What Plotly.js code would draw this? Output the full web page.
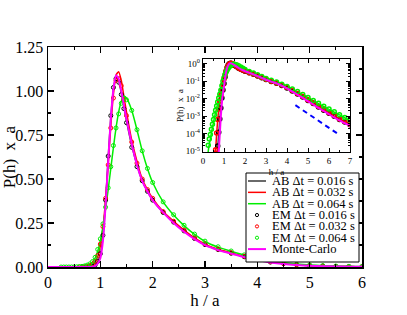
<!DOCTYPE html>
<html><head><meta charset="utf-8">
<script src="https://cdn.plot.ly/plotly-3.0.1.min.js"></script>
<style>html,body{margin:0;padding:0;background:#fff}#chart{width:407px;height:315px}</style>
</head><body><div id="chart"></div>
<script>
// h / a grid
const H = [0, 0.1, 0.2, 0.25, 0.3, 0.35, 0.4, 0.45, 0.5, 0.55, 0.6, 0.65, 0.7, 0.75, 0.8, 0.85, 0.9, 0.95, 1.0, 1.05, 1.1, 1.15, 1.2, 1.25, 1.3, 1.35, 1.4, 1.45, 1.5, 1.6, 1.7, 1.8, 1.9, 2.0, 2.2, 2.4, 2.6, 2.8, 3.0, 3.25, 3.5, 3.75, 4.0, 4.25, 4.5, 4.75, 5.0, 5.25, 5.5, 5.75, 6.0, 6.25, 6.5, 6.75, 7.0];

const AB016 = [1e-9,1e-9,1e-9,1e-9,1e-9,1e-9,1e-9,1e-9,1e-9,1e-9, 1e-8,1e-6,1.5e-5,1e-4,6e-4,3e-3,0.01,0.03,0.07,0.17, 0.37,0.62,0.85,1.01,1.08,1.06,0.99,0.91,0.83,0.69, 0.58,0.49,0.43,0.38,0.31,0.255,0.205,0.161,0.126,0.098, 0.078,0.058,0.041,0.028,0.019,0.0125,0.0078,0.0052,0.0033,0.0022, 0.0015,0.00095,0.00064,0.00045,0.00031];
const AB032 = [1e-9,1e-9,1e-9,1e-9,1e-9,1e-9,1e-9,1e-9,1e-8,1e-6, 1e-5,1e-4,6e-4,2.5e-3,7e-3,0.015,0.03,0.06,0.12,0.22, 0.38,0.58,0.8,0.98,1.09,1.11,1.06,0.97,0.88,0.72, 0.6,0.5,0.44,0.39,0.315,0.26,0.21,0.165,0.13,0.101, 0.08,0.06,0.043,0.029,0.02,0.013,0.0082,0.0055,0.0035,0.0023, 0.0016,0.001,0.00068,0.00048,0.00034];
const AB064 = [1e-9,1e-8,2e-6,1e-5,2.5e-5,5e-5,1.1e-4,2.3e-4,4.5e-4,9e-4, 1.7e-3,3e-3,5.5e-3,9e-3,0.016,0.028,0.05,0.09,0.15,0.23, 0.33,0.44,0.56,0.68,0.79,0.88,0.94,0.97,0.96,0.89, 0.78,0.66,0.56,0.48,0.37,0.295,0.235,0.185,0.145,0.113, 0.09,0.068,0.05,0.035,0.025,0.017,0.0115,0.0078,0.0053,0.0036, 0.0025,0.0017,0.0012,0.00082,0.00057];
const EM016 = [null,null,null,null,null,null,null,null,null,null, null,3e-6,2e-5,1.2e-4,7e-4,3e-3,0.011,0.032,0.075,0.18, 0.38,0.63,0.86,1.02,1.07,1.05,0.98,0.9,0.82,0.68, 0.57,0.49,0.43,0.38,0.31,0.255,0.205,0.162,0.127,0.099, 0.078,0.058,0.041,0.028,0.019,0.0125,0.008,0.0053,0.0034,0.0022, 0.0015,0.001,0.00066,0.00046,0.00032];
const EM032 = [null,null,null,null,null,null,null,null,null,null, 1.2e-5,1.1e-4,6.5e-4,2.6e-3,7.5e-3,0.016,0.032,0.065,0.13,0.23, 0.39,0.58,0.79,0.96,1.06,1.07,1.03,0.95,0.86,0.71, 0.59,0.5,0.44,0.39,0.315,0.26,0.21,0.166,0.131,0.102, 0.081,0.061,0.044,0.03,0.02,0.0135,0.0085,0.0057,0.0036,0.0024, 0.0016,0.0011,0.0007,0.0005,0.00035];
const EM064 = [null,null,null,2.2e-5,5e-5,9e-5,1.8e-4,3.5e-4,6.5e-4,1.2e-3, 2.2e-3,3.8e-3,6.5e-3,0.011,0.018,0.031,0.055,0.1,0.16,0.245, 0.34,0.45,0.57,0.69,0.79,0.87,0.93,0.96,0.95,0.89, 0.78,0.66,0.56,0.48,0.37,0.297,0.237,0.187,0.147,0.115, 0.091,0.069,0.051,0.036,0.026,0.0175,0.012,0.008,0.0055,0.0037, 0.0026,0.0018,0.0012,0.00085,0.0006];
const MC = [1e-9,1e-9,1e-9,1e-9,1e-9,1e-9,1e-9,1e-9,1e-9,1e-9, 1e-9,1e-8,1e-6,1e-5,1e-4,1e-3,6e-3,0.02,0.05,0.15, 0.35,0.6,0.84,1.01,1.09,1.07,1.0,0.92,0.84,0.70, 0.58,0.49,0.43,0.38,0.31,0.25,0.2,0.158,0.124,0.096, 0.076,0.056,0.039,0.026,0.017,0.0112,0.0072,0.0047,0.003,0.002, 0.0013,0.00085,0.00057,0.0004,0.00028];

// guide line (inset)
const refX = [4.4, 6.5];
const refY = [4.3e-3, 8.5e-5];

const names = ['AB \u0394t = 0.016 s','AB \u0394t = 0.032 s','AB \u0394t = 0.064 s','EM \u0394t = 0.016 s','EM \u0394t = 0.032 s','EM \u0394t = 0.064 s','Monte-Carlo'];
const insetYTickVals = [1, 0.1, 0.01, 0.001, 1e-4, 1e-5];
const insetYTickText = ['10<sup>0</sup>','10<sup>-1</sup>','10<sup>-2</sup>','10<sup>-3</sup>','10<sup>-4</sup>','10<sup>-5</sup>'];

const cBlack = '#383838', cRed = '#ff0000', cGreen = '#00ee00', cMag = '#ff00ff', cBlue = '#0000ff';
const FONT = 'Liberation Serif, Times New Roman, serif';

const series = [
  {y: AB016, kind: 'line', color: cBlack, w: 1.5},
  {y: AB032, kind: 'line', color: cRed, w: 1.5},
  {y: AB064, kind: 'line', color: cGreen, w: 1.5},
  {y: EM016, kind: 'mark', color: '#000000'},
  {y: EM032, kind: 'mark', color: cRed},
  {y: EM064, kind: 'mark', color: cGreen},
  {y: MC, kind: 'line', color: cMag, w: 2}
];

const traces = [];
[['x','y'],['x2','y2']].forEach(function(ax, k){
  series.forEach(function(s, i){
    const t = {x: H, y: s.y, xaxis: ax[0], yaxis: ax[1], name: names[i], showlegend: false, hoverinfo: 'skip'};
    if (s.kind === 'line') {
      t.mode = 'lines';
      t.line = {color: s.color, width: s.w, shape: 'spline', smoothing: 0.5};
    } else {
      t.mode = 'markers';
      t.marker = {symbol: 'circle-open', size: 4, color: s.color, line: {color: s.color, width: k === 0 ? 1 : 1.5}};
    }
    traces.push(t);
  });
});
traces.push({x: refX, y: refY, xaxis: 'x2', yaxis: 'y2', mode: 'lines', line: {color: cBlue, width: 2, dash: '5px,4px'}, showlegend: false, hoverinfo: 'skip'});

// minor ticks for log inset axis
const minorLog = [];
for (let e = -5; e < 1; e++) for (let d = 2; d <= 9; d++) minorLog.push(d * Math.pow(10, e));

// manual legend
const L = 48, T = 47, PW = 314, PH = 220;
const px = v => (v - L) / PW, py = v => (T + PH - v) / PH;
const shapes = [{type: 'rect', xref: 'paper', yref: 'paper', x0: px(246), x1: px(359), y0: py(262), y1: py(173), line: {color: '#000', width: 1}, fillcolor: '#fff', layer: 'above'}];
const annotations = [];
series.forEach(function(s, i){
  const yy = py(181 + 11.35 * i);
  if (s.kind === 'line') {
    shapes.push({type: 'line', xref: 'paper', yref: 'paper', x0: px(248), x1: px(266), y0: yy, y1: yy, line: {color: s.color, width: s.w}});
  } else {
    shapes.push({type: 'circle', xref: 'paper', yref: 'paper', xsizemode: 'pixel', ysizemode: 'pixel', xanchor: px(257), yanchor: yy, x0: -1.6, x1: 1.6, y0: -1.6, y1: 1.6, line: {color: s.color, width: 1}});
  }
  annotations.push({xref: 'paper', yref: 'paper', x: px(271), y: yy, xanchor: 'left', yanchor: 'middle', text: names[i], showarrow: false, font: {family: FONT, size: 12.5, color: '#000'}, borderpad: 0});
});

const axMain = {showline: true, linewidth: 1.5, linecolor: '#000', mirror: 'allticks', ticks: 'inside', ticklen: 6, tickwidth: 1.2, tickcolor: '#000', showgrid: false, zeroline: false, tickfont: {family: FONT, size: 16, color: '#000'}};
const axIn = {showline: true, linewidth: 1.2, linecolor: '#000', mirror: 'allticks', ticks: 'inside', ticklen: 4, tickwidth: 1, tickcolor: '#000', showgrid: false, zeroline: false, tickfont: {family: FONT, size: 9, color: '#000'}};

const layout = {
  width: 407, height: 315,
  margin: {l: L, r: 407 - L - PW, t: T, b: 315 - T - PH},
  paper_bgcolor: '#fff', plot_bgcolor: '#fff',
  font: {family: FONT, color: '#000'},
  xaxis: Object.assign({}, axMain, {domain: [0, 1], range: [0, 6], dtick: 1, tick0: 0, anchor: 'y',
    minor: {dtick: 0.5, ticklen: 3, ticks: 'inside', tickcolor: '#000'},
    title: {text: 'h / a', font: {family: FONT, size: 17}, standoff: 2}}),
  yaxis: Object.assign({}, axMain, {domain: [0, 1], range: [0, 1.25], dtick: 0.25, tick0: 0, tickformat: '.2f', anchor: 'x',
    minor: {dtick: 0.125, ticklen: 3, ticks: 'inside', tickcolor: '#000'},
    title: {text: 'P(h)\u00a0 x\u00a0 a', font: {family: FONT, size: 17}, standoff: 4}}),
  xaxis2: Object.assign({}, axIn, {domain: [px(203), px(350)], range: [0, 7], dtick: 1, tick0: 0, anchor: 'y2',
    minor: {dtick: 0.5, ticklen: 2, ticks: 'inside', tickcolor: '#000'},
    title: {text: 'h / a', font: {family: FONT, size: 9}, standoff: 3}}),
  yaxis2: Object.assign({}, axIn, {domain: [py(152), py(59)], type: 'log', range: [-5.05, 0.28], anchor: 'x2',
    tickmode: 'array', tickvals: insetYTickVals, ticktext: insetYTickText,
    minor: {tickmode: 'array', tickvals: minorLog, ticklen: 2, ticks: 'inside', tickcolor: '#000'},
    title: {text: 'P(h)\u00a0 x\u00a0 a', font: {family: FONT, size: 9}, standoff: 0}}),
  shapes: shapes,
  annotations: annotations,
  showlegend: false
};

Plotly.newPlot('chart', traces, layout, {displayModeBar: false, staticPlot: true});
</script></body></html>
